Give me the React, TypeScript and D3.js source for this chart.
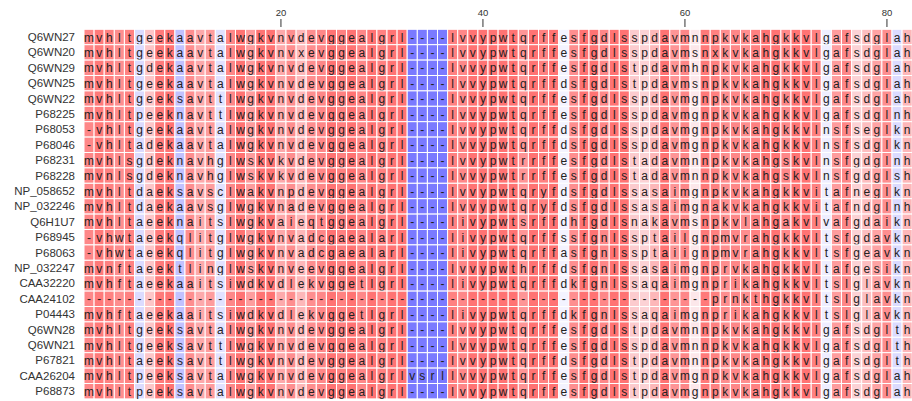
import React from "react";
import * as d3 from "d3";

const names = [
  "Q6WN27", "Q6WN20", "Q6WN29", "Q6WN25", "Q6WN22", "P68225", "P68053", "P68046",
  "P68231", "P68228", "NP_058652", "NP_032246", "Q6H1U7", "P68945", "P68063", "NP_032247",
  "CAA32220", "CAA24102", "P04443", "Q6WN28", "Q6WN21", "P67821", "CAA26204", "P68873",
];

const sequences = [
  "mvhltgeekaavtalwgkvnvdevggealgrl----lvvypwtqrffesfgdlsspdavmnnpkvkahgkkvlgafsdglah",
  "mvhltgeekaavtalwgkvnvxevggealgrl----lvvypwtqrffesfgdlsspdavmsnxkvkahgkkvlgafsdglah",
  "mvhltgdekaavtalwgkvnvdevggealgrl----lvvypwtqrffesfgdlstpdavmhnpkvkahgkkvlgafsdglah",
  "mvhltgeekaavtalwgkvnvdevggealgrl----lvvypwtqrffdsfgdlstpdavmsnpkvkahgkkvlgafsdglah",
  "mvhltgeeksavttlwgkvnvdevggealgrl----lvvypwtqrffesfgdlsspdavmgnpkvkahgkkvlgafsdglah",
  "mvhltpeeknavttlwgkvnvdevggealgrl----lvvypwtqrffesfgdlsspdavmgnpkvkahgkkvlgafsdglnh",
  "-vhltgeekaavtalwgkvnvdevggealgrl----lvvypwtqrffdsfgdlsspdavmgnpkvkahgkkvlnsfseglkn",
  "-vhltadekaavtalwgkvnvdevggealgrl----lvvypwtqrffdsfgdlsspdavmgnpkvkahgkkvlnsfsdglkn",
  "mvhlsgdeknavhglwskvkvdevggealgrl----lvvypwtrrffesfgdlstadavmnnpkvkahgskvlnsfgdglnh",
  "mvnlsgdeknavhglwskvkvdevggealgrl----lvvypwtrrffesfgdlstadavmnnpkvkahgskvlnsfgdglsh",
  "mvhltdaeksavsclwakvnpdevggealgrl----lvvypwtqryfdsfgdlssasaimgnpkvkahgkkvitafneglkn",
  "mvhltdaekaavsglwgkvnadevggealgrl----lvvypwtqryfdsfgdlssasaimgnakvkahgkkvitafndglnh",
  "mvhltaeeknaitslwgkvaieqtggealgrl----livypwtsrffdhfgdlsnakavmsnpkvlahgakvlvafgdaikn",
  "-vhwtaeekqlitglwgkvnvadcgaealarl----livypwtqrffssfgnlssptailgnpmvrahgkkvltsfgdavkn",
  "-vhwtaeekqlitglwgkvnvadcgaealarl----livypwtqrffasfgnlssptaiignpmvrahgkkvltsfgeavkn",
  "mvnftaeektlinglwskvnveevggealgrl----lvvypwthrffdsfgnlssasaimgnprvkahgkkvltafgesikn",
  "mvhftaeekaaitsiwdkvdlekvggetlgrl----livypwtqrffdkfgnlssaqaimgnprikahgkkvltslglavkn",
  "--------------------------------------------------------------prnkthgkkvltslglavkn",
  "mvhftaeekaaitsiwdkvdlekvggetlgrl----livypwtqrffdkfgnlssaqaimgnprikahgkkvltslglavkn",
  "mvhltgeeksavtalwgkvnvdevggealgrl----lvvypwtqrffesfgdlstpdavmnnpkvkahgkkvlgafsdglth",
  "mvhltgeeksavttlwgkvnvdevggealgrl----lvvypwtqrffesfgdlsspdavmnnpkvkahgkkvlgafsdglth",
  "mvhltaeeksavttlwgkvnvdevggealgrl----lvvypwtqrffdsfgdlstpdavmnnpkvkahgkkvlgafsdglth",
  "mvhltpeeksavtalwgkvnvdevggealgrlvsrllvvypwtqrffesfgdlstpdavmgnpkvkahgkkvlgafsdglah",
  "mvhltpeeksavtalwgkvnvdevggealgrl----lvvypwtqrffesfgdlstpdavmgnpkvkahgkkvlgafsdglah",
];

// per-column conservation score (-1 blue .. 0 white .. 1 red)
const columnScores = [
  0.85, 0.95, 0.9, 0.8, 0.9, -0.25, 0.4, 0.95, 1, -0.45,
  0.8, 0.6, 0.7, -0.2, 0.85, 1, 0.7, 1, 1, 0.6,
  0.8, 0.5, 0.8, 0.85, 1, 0.9, 1, 0.85, 1, 0.9,
  1, 1, -1, -1, -1, -1, 0.9, 0.85, 1, 1,
  1, 1, 1, 0.75, 1, 0.9, 1, -0.06, 0.8, 1,
  1, 0.85, 1, 1, 0.35, 0.3, 0.5, 1, 0.75, 0.85,
  0.15, 0.95, 0.9, 0.8, 0.85, 0.8, 0.9, 1, 1, 0.85,
  1, 1, 0.9, -0.1, 0.7, 0.85, 0.3, 0.45, 0.65, 0.8,
  -0.25, 0.5,
];

const tickPositions = [20, 40, 60, 80];

const W = 912;
const H = 401;

export default function App() {
  const nCols = columnScores.length;
  const cols = d3.range(1, nCols + 1);
  const x = d3.scaleBand<number>().domain(cols).range([84, 84 + nCols * 10.1]).padding(0);
  const y = d3.scaleBand<string>().domain(names).range([29.3, 29.3 + names.length * 15.4]).padding(0);
  const color = d3
    .scaleLinear<string>()
    .domain([-1, 0, 1])
    .range(["#7a7aff", "#fbfbff", "#ff7373"])
    .interpolate(d3.interpolateRgb);

  const bw = x.bandwidth();
  const bh = y.bandwidth();

  return (
    <svg
      width={W}
      height={H}
      style={{ position: "absolute", left: 0, top: 0, background: "#fff" }}
      fontFamily="'Liberation Sans', Arial, Helvetica, sans-serif"
    >
      {tickPositions.map((t) => {
        const cx = (x(t) as number) + bw / 2;
        return (
          <g key={t}>
            <text x={cx} y={16} textAnchor="middle" fontSize={9.5} fill="#333">
              {t}
            </text>
            <line x1={cx} x2={cx} y1={19} y2={27} stroke="#333" strokeWidth={1} />
          </g>
        );
      })}
      {names.map((name, r) => {
        const yy = y(name) as number;
        const seq = sequences[r];
        return (
          <g key={name}>
            <text
              x={75}
              y={yy + bh / 2}
              textAnchor="end"
              dominantBaseline="central"
              fontSize={11.5}
              fill="#333"
            >
              {name}
            </text>
            {cols.map((c, i) => (
              <rect
                key={c}
                x={x(c) as number}
                y={yy}
                width={bw}
                height={bh}
                fill={color(columnScores[i])}
                stroke="#fff"
                strokeWidth={1}
              />
            ))}
            {cols.map((c, i) => (
              <text
                key={"t" + c}
                x={(x(c) as number) + bw / 2}
                y={yy + bh / 2 + 0.5}
                textAnchor="middle"
                dominantBaseline="central"
                fontSize={12}
                fill="#222"
              >
                {seq[i]}
              </text>
            ))}
          </g>
        );
      })}
    </svg>
  );
}
